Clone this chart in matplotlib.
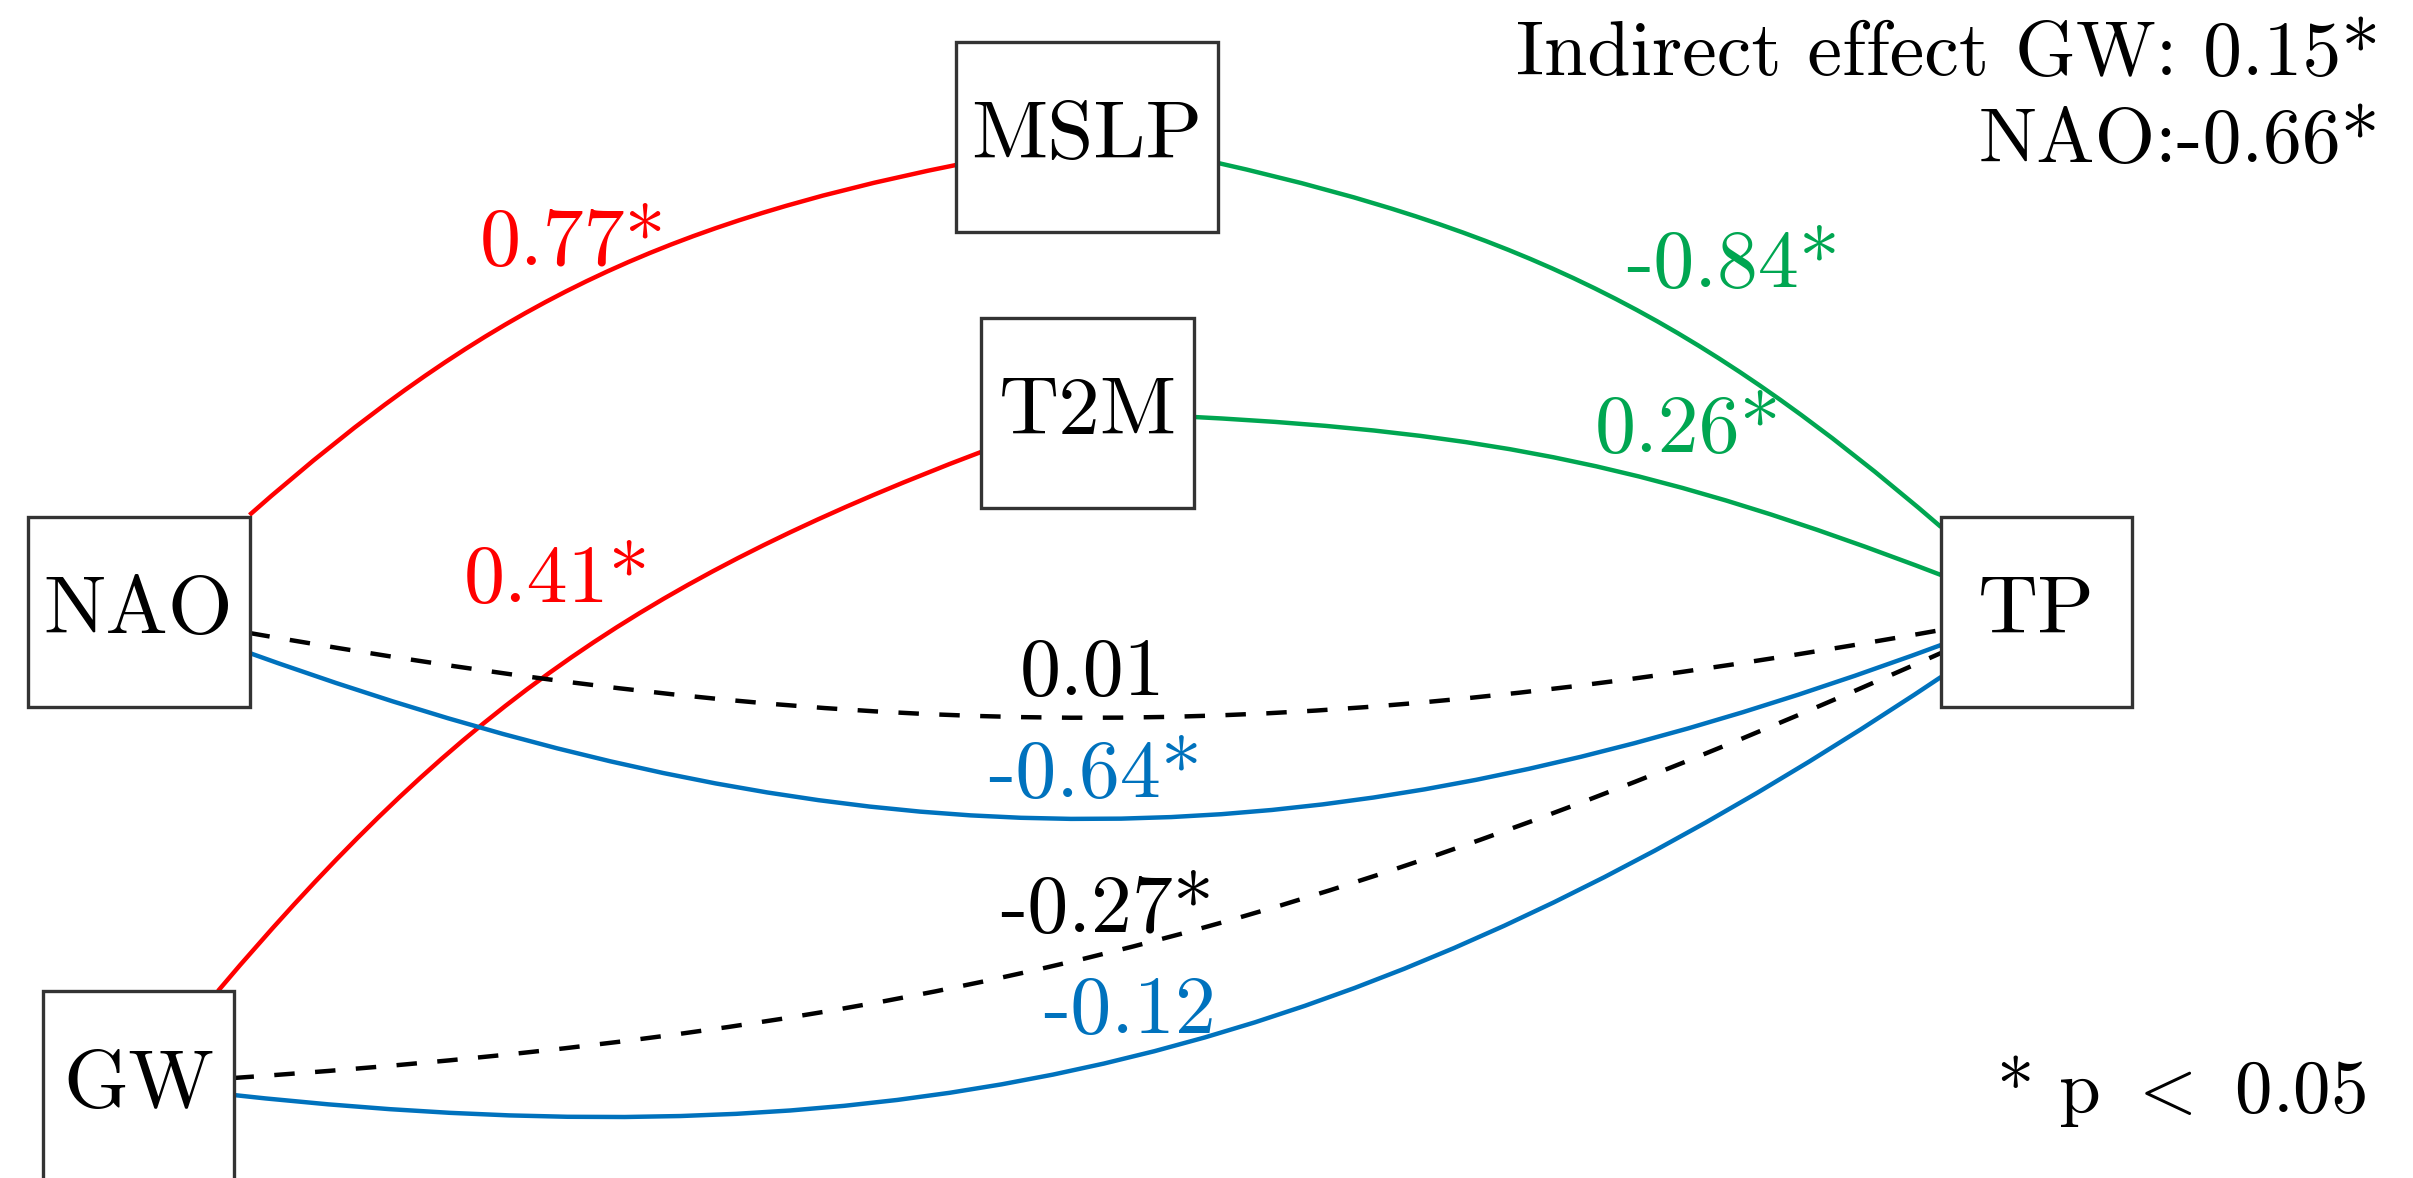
import numpy as np
import matplotlib
matplotlib.use("Agg")
import matplotlib.pyplot as plt
from matplotlib.path import Path
from matplotlib.patches import PathPatch, Rectangle

plt.rcParams['font.family'] = ['cmr10', 'DejaVu Serif']
plt.rcParams['mathtext.fontset'] = 'cm'
plt.rcParams['axes.unicode_minus'] = False

# ---------------- data ----------------
nodes = ["NAO", "GW", "MSLP", "T2M", "TP"]
edge_from = ["NAO", "GW", "MSLP", "T2M", "NAO", "NAO", "GW", "GW"]
edge_to = ["MSLP", "T2M", "TP", "TP", "TP", "TP", "TP", "TP"]
coef_labels = ["0.77*", "0.41*", "-0.84*", "0.26*", "0.01", "-0.64*", "-0.27*", "-0.12"]
indirect_lines = ["Indirect effect GW: 0.15*", "NAO:-0.66*"]
note = r"* p $<$ 0.05"

# ---------------- layout (pixel coords, y down) ----------------
W, H = 2413, 1178
node_box = {  # center x, center y, width, height
    "NAO": (138.5, 612, 222, 190),
    "GW": (138.5, 1086, 191, 190),
    "MSLP": (1087, 137, 262, 190),
    "T2M": (1087.5, 413, 213, 190),
    "TP": (2036.5, 612, 191, 190),
}
edge_start = [(249.5, 515), (218, 991), (1218, 163), (1194, 417),
              (249.5, 633), (249.5, 653), (233.5, 1078), (233.5, 1095)]
edge_end = [(956, 165), (981, 452), (1941, 527), (1941, 575),
            (1941, 630), (1941, 645), (1941, 653), (1941, 677)]
edge_bend = [15, 14.5, 14, 9, -10, -20, -10, -20]
edge_color = ["#FF0000", "#FF0000", "#00A651", "#00A651",
              "black", "#0072BD", "black", "#0072BD"]
edge_dashed = [False, False, False, False, True, False, True, False]
label_pos = [(573, 265), (557, 602), (1733, 287), (1688, 452),
             (1093, 695), (1095, 797), (1107, 932), (1130, 1033)]

FS = 59

fig = plt.figure(figsize=(W / 100, H / 100), dpi=100)
ax = fig.add_axes([0, 0, 1, 1])
ax.set_xlim(0, W)
ax.set_ylim(H, 0)
ax.axis('off')


def bent_path(p0, p2, bend_deg):
    x0, y0 = p0
    x2, y2 = p2
    L = np.hypot(x2 - x0, y2 - y0)
    a = np.arctan2(-(y2 - y0), x2 - x0)
    b = np.deg2rad(bend_deg)
    d = 0.3915 * L
    c1 = (x0 + d * np.cos(a + b), y0 - d * np.sin(a + b))
    c2 = (x2 - d * np.cos(a - b), y2 + d * np.sin(a - b))
    return Path([p0, c1, c2, p2], [Path.MOVETO, Path.CURVE4, Path.CURVE4, Path.CURVE4])


for i in range(len(edge_from)):
    path = bent_path(edge_start[i], edge_end[i], edge_bend[i])
    ls = (0, (4.6, 4.6)) if edge_dashed[i] else '-'
    lw = 3.2
    patch = PathPatch(path, facecolor='none', edgecolor=edge_color[i],
                      lw=lw, linestyle=ls, zorder=2, capstyle='butt')
    ax.add_patch(patch)
    lx, ly = label_pos[i]
    ax.text(lx, ly, coef_labels[i], color=edge_color[i], fontsize=FS,
            ha='center', va='baseline', zorder=4)

for n in nodes:
    cx, cy, bw, bh = node_box[n]
    ax.add_patch(Rectangle((cx - bw / 2, cy - bh / 2), bw, bh, facecolor='white',
                           edgecolor='#333333', lw=2.4, zorder=3))
    ax.text(cx, cy, n, fontsize=60, ha='center', va='center', color='black', zorder=4)

ax.text(2380, 75, indirect_lines[0], fontsize=56, ha='right', va='baseline')
ax.text(2380, 162, indirect_lines[1], fontsize=56, ha='right', va='baseline')
ax.text(2181, 1112, note, fontsize=54, ha='center', va='baseline')

fig.savefig("out.png", dpi=100, facecolor='white')
